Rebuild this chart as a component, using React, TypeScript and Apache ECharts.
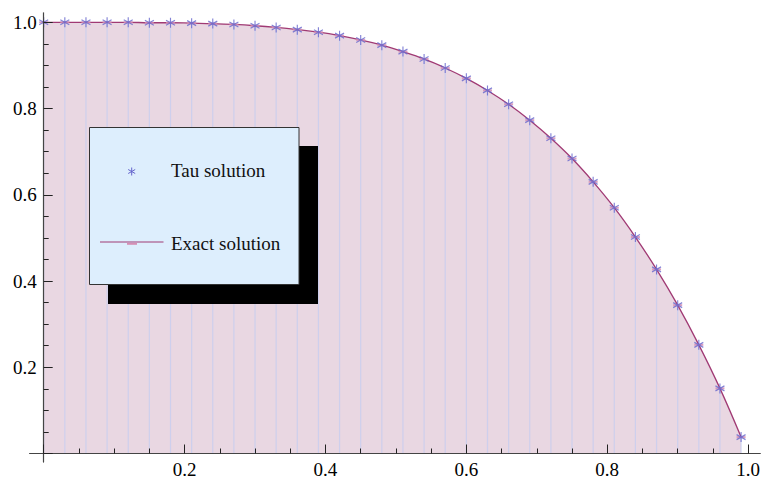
import React, { useEffect, useRef } from "react";
import * as echarts from "echarts";

// x positions of the Tau solution points
const xValues = [
  0, 0.03, 0.06, 0.09, 0.12, 0.15, 0.18, 0.21, 0.24, 0.27, 0.3, 0.33, 0.36, 0.39,
  0.42, 0.45, 0.48, 0.51, 0.54, 0.57, 0.6, 0.63, 0.66, 0.69, 0.72, 0.75, 0.78,
  0.81, 0.84, 0.87, 0.9, 0.93, 0.96, 0.99,
];
// Tau solution values
const tauValues = [
  1.0, 1.0, 1.0, 1.0, 1.0, 0.999, 0.999, 0.998, 0.997, 0.995, 0.992, 0.988, 0.983,
  0.977, 0.969, 0.959, 0.947, 0.932, 0.915, 0.894, 0.87, 0.842, 0.81, 0.773, 0.731,
  0.684, 0.63, 0.57, 0.502, 0.427, 0.344, 0.252, 0.151, 0.038,
];
// Exact solution curve values (same abscissae)
const exactValues = [
  1.0, 1.0, 1.0, 1.0, 1.0, 0.999, 0.999, 0.998, 0.997, 0.995, 0.992, 0.988, 0.983,
  0.977, 0.969, 0.959, 0.947, 0.932, 0.915, 0.894, 0.87, 0.842, 0.81, 0.773, 0.731,
  0.684, 0.63, 0.57, 0.502, 0.427, 0.344, 0.252, 0.151, 0.038,
];
const xTickValues = [0.2, 0.4, 0.6, 0.8, 1.0];
const yTickValues = [0.2, 0.4, 0.6, 0.8, 1.0];
const legendLabels = ["Tau solution", "Exact solution"];

const FONT = '"Liberation Serif", "DejaVu Serif", serif';
const LINE_COLOR = "#a03a74";
const FILL_COLOR = "#e9d7e2";
const DROP_COLOR = "rgba(196,204,240,0.75)";
const STAR_COLOR = "#6464cc";
const AXIS_COLOR = "#444";

// plot geometry (pixels)
const X0 = 43.7;
const PX = 706;
const Y0 = 453.5;
const PY = 431.2;
const XMIN_EXT = -0.02;
const XMAX_EXT = 1.015;
const YMIN_EXT = -0.02;
const YMAX_EXT = 1.022;

const STAR_PATH = "path://M5,0L5,10M0.67,2.5L9.33,7.5M0.67,7.5L9.33,2.5";

function fmt(v: number) {
  for (const t of xTickValues) if (Math.abs(v - t) < 1e-6) return t.toFixed(1);
  return "";
}
function fmtY(v: number) {
  for (const t of yTickValues) if (Math.abs(v - t) < 1e-6) return t.toFixed(1);
  return "";
}

export default function App() {
  const ref = useRef<HTMLDivElement>(null);

  useEffect(() => {
    if (!ref.current) return;
    const chart = echarts.init(ref.current, null, { renderer: "svg" });

    const tauData = xValues.map((x, i) => [x, tauValues[i]]);
    const exactData = xValues.map((x, i) => [x, exactValues[i]]);

    const option: any = {
      animation: false,
      backgroundColor: "#fff",
      grid: [
        { left: X0, top: Y0 - PY, width: PX, height: PY, containLabel: false },
        {
          left: X0 + XMIN_EXT * PX,
          top: Y0 - YMAX_EXT * PY,
          width: (XMAX_EXT - XMIN_EXT) * PX,
          height: (YMAX_EXT - YMIN_EXT) * PY,
          containLabel: false,
        },
      ],
      xAxis: [
        {
          gridIndex: 0,
          type: "value",
          min: 0,
          max: 1,
          interval: 0.2,
          axisLine: { show: false },
          axisTick: { show: true, inside: true, length: 9, lineStyle: { color: "#222", width: 1 } },
          minorTick: { show: true, splitNumber: 4, length: 5, lineStyle: { color: "#222", width: 1 } },
          axisLabel: {
            show: true,
            margin: 6,
            color: "#000",
            fontFamily: FONT,
            fontSize: 19,
            formatter: (v: number) => fmt(v),
          },
          splitLine: { show: false },
          minorSplitLine: { show: false },
          z: 10,
        },
        {
          gridIndex: 1,
          type: "value",
          min: XMIN_EXT,
          max: XMAX_EXT,
          axisLine: { show: true, onZero: true, lineStyle: { color: AXIS_COLOR, width: 1.2 } },
          axisTick: { show: false },
          axisLabel: { show: false },
          splitLine: { show: false },
          z: 10,
        },
      ],
      yAxis: [
        {
          gridIndex: 0,
          type: "value",
          min: 0,
          max: 1,
          interval: 0.2,
          axisLine: { show: false },
          axisTick: { show: true, inside: true, length: 9, lineStyle: { color: "#222", width: 1 } },
          minorTick: { show: true, splitNumber: 4, length: 5, lineStyle: { color: "#222", width: 1 } },
          axisLabel: {
            show: true,
            margin: 7,
            color: "#000",
            fontFamily: FONT,
            fontSize: 19,
            formatter: (v: number) => fmtY(v),
          },
          splitLine: { show: false },
          minorSplitLine: { show: false },
          z: 10,
        },
        {
          gridIndex: 1,
          type: "value",
          min: YMIN_EXT,
          max: YMAX_EXT,
          axisLine: { show: true, onZero: true, lineStyle: { color: AXIS_COLOR, width: 1.2 } },
          axisTick: { show: false },
          axisLabel: { show: false },
          splitLine: { show: false },
          z: 10,
        },
      ],
      series: [
        {
          name: legendLabels[1] + " fill",
          type: "line",
          xAxisIndex: 0,
          yAxisIndex: 0,
          data: exactData,
          smooth: 0.4,
          showSymbol: false,
          lineStyle: { width: 0 },
          areaStyle: { color: FILL_COLOR, opacity: 1 },
          clip: false,
          z: 1,
          silent: true,
        },
        {
          name: "drop lines",
          type: "custom",
          xAxisIndex: 0,
          yAxisIndex: 0,
          data: tauData,
          clip: false,
          z: 2,
          renderItem: (params: any, api: any) => {
            const x = api.value(0);
            const y = api.value(1);
            const p1 = api.coord([x, 0]);
            const p2 = api.coord([x, y]);
            return {
              type: "line",
              shape: { x1: p1[0], y1: p1[1], x2: p2[0], y2: p2[1] },
              style: { stroke: DROP_COLOR, lineWidth: 1.2 },
            };
          },
        },
        {
          name: legendLabels[1],
          type: "line",
          xAxisIndex: 0,
          yAxisIndex: 0,
          data: exactData,
          smooth: 0.4,
          showSymbol: false,
          lineStyle: { color: LINE_COLOR, width: 1.3 },
          clip: false,
          z: 3,
        },
        {
          name: "exact markers",
          type: "scatter",
          xAxisIndex: 0,
          yAxisIndex: 0,
          data: exactData,
          symbol: "rect",
          symbolSize: [9, 2],
          itemStyle: { color: "#d58fb5", opacity: 0.85 },
          clip: false,
          z: 4,
        },
        {
          name: legendLabels[0],
          type: "scatter",
          xAxisIndex: 0,
          yAxisIndex: 0,
          data: tauData,
          symbol: STAR_PATH,
          symbolSize: [9, 10],
          itemStyle: { color: "none", borderColor: STAR_COLOR, borderWidth: 1.2 },
          clip: false,
          z: 5,
        },
      ],
      graphic: [
        {
          type: "rect",
          shape: { x: 108, y: 146, width: 210, height: 158 },
          style: { fill: "#000" },
          z: 100,
        },
        {
          type: "rect",
          shape: { x: 89.5, y: 127.5, width: 209.5, height: 157 },
          style: { fill: "#ddeefd", stroke: "#333", lineWidth: 1 },
          z: 101,
        },
        {
          type: "line",
          shape: { x1: 131.7, y1: 167.5, x2: 131.7, y2: 175.5 },
          style: { stroke: STAR_COLOR, lineWidth: 1 },
          z: 102,
        },
        {
          type: "line",
          shape: { x1: 128.2, y1: 169.5, x2: 135.2, y2: 173.5 },
          style: { stroke: STAR_COLOR, lineWidth: 1 },
          z: 102,
        },
        {
          type: "line",
          shape: { x1: 128.2, y1: 173.5, x2: 135.2, y2: 169.5 },
          style: { stroke: STAR_COLOR, lineWidth: 1 },
          z: 102,
        },
        {
          type: "text",
          x: 171,
          y: 170,
          style: {
            text: legendLabels[0],
            font: `19px ${FONT}`,
            fill: "#111",
            verticalAlign: "middle",
            textVerticalAlign: "middle",
          },
          z: 102,
        },
        {
          type: "line",
          shape: { x1: 100, y1: 242, x2: 163.5, y2: 242 },
          style: { stroke: LINE_COLOR, lineWidth: 1 },
          z: 102,
        },
        {
          type: "line",
          shape: { x1: 127, y1: 243.8, x2: 137, y2: 243.8 },
          style: { stroke: "#d58fb5", lineWidth: 2 },
          z: 102,
        },
        {
          type: "text",
          x: 171,
          y: 243,
          style: {
            text: legendLabels[1],
            font: `19px ${FONT}`,
            fill: "#111",
            verticalAlign: "middle",
            textVerticalAlign: "middle",
          },
          z: 102,
        },
      ],
    };

    chart.setOption(option);
    return () => chart.dispose();
  }, []);

  return (
    <div
      ref={ref}
      style={{ position: "absolute", left: 0, top: 0, width: 763, height: 482 }}
    />
  );
}
